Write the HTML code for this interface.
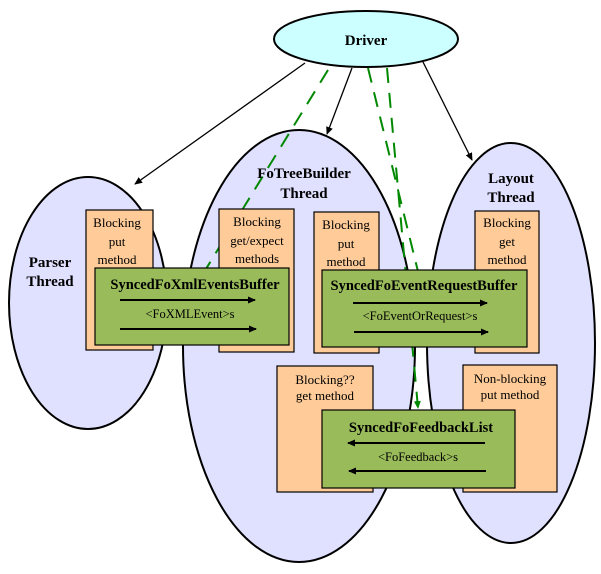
<!DOCTYPE html>
<html><head><meta charset="utf-8"><style>body{margin:0;background:#fff}svg{display:block}</style></head><body>
<svg width="601" height="574" viewBox="0 0 601 574" xmlns="http://www.w3.org/2000/svg" font-family="Liberation Serif, serif">
<defs>
<marker id="a" markerWidth="8" markerHeight="8" refX="7" refY="4" orient="auto" markerUnits="userSpaceOnUse"><path d="M0,0.5 L8,4 L0,7.5z" fill="#000"/></marker>
<marker id="g" markerWidth="8" markerHeight="8" refX="7" refY="4" orient="auto" markerUnits="userSpaceOnUse"><path d="M0,0.5 L8,4 L0,7.5z" fill="#080"/></marker>
</defs>
<g stroke="#000" stroke-width="2" fill="#e0e0ff">
<ellipse cx="88" cy="303" rx="79" ry="126"/>
<ellipse cx="299" cy="346" rx="116" ry="216"/>
<ellipse cx="511" cy="343" rx="84" ry="200"/>
</g>
<ellipse cx="366" cy="39" rx="92" ry="28" fill="#ccffff" stroke="#000" stroke-width="2"/>
<text x="366" y="45" font-size="15" font-weight="bold" text-anchor="middle">Driver</text>
<g stroke="#000" stroke-width="1.3" fill="none">
<line x1="305" y1="63" x2="135" y2="184" marker-end="url(#a)"/>
<line x1="352" y1="68" x2="327" y2="134" marker-end="url(#a)"/>
<line x1="423" y1="62" x2="472" y2="160" marker-end="url(#a)"/>
</g>
<g stroke="#080" stroke-width="2" stroke-dasharray="15,10" fill="none">
<line x1="328" y1="70" x2="190" y2="295" marker-end="url(#g)"/>
<line x1="368" y1="68" x2="425" y2="300" marker-end="url(#g)"/>
<line x1="387" y1="68" x2="418" y2="408" marker-end="url(#g)"/>
</g>
<g font-size="15" font-weight="bold" text-anchor="middle">
<text x="50" y="267">Parser</text><text x="50" y="286">Thread</text>
<text x="304" y="178">FoTreeBuilder</text><text x="304" y="198">Thread</text>
<text x="511" y="183">Layout</text><text x="511" y="202">Thread</text>
</g>
<g fill="#ffcc99" stroke="#000" stroke-width="1.2">
<rect x="86" y="210" width="67" height="140"/>
<rect x="219" y="209" width="75" height="143"/>
<rect x="314" y="212" width="65" height="141"/>
<rect x="475" y="211" width="64" height="142"/>
<rect x="277" y="366" width="96" height="126"/>
<rect x="463" y="365" width="94" height="127"/>
</g>
<g font-size="13" text-anchor="middle">
<text x="117" y="227">Blocking</text><text x="117" y="246">put</text><text x="117" y="264">method</text>
<text x="257" y="226">Blocking</text><text x="257" y="245">get/expect</text><text x="257" y="263">methods</text>
<text x="346" y="229">Blocking</text><text x="346" y="248">put</text><text x="346" y="266">method</text>
<text x="507" y="227">Blocking</text><text x="507" y="246">get</text><text x="507" y="264">method</text>
<text x="325" y="384">Blocking??</text><text x="325" y="400">get method</text>
<text x="510" y="383">Non-blocking</text><text x="510" y="399">put method</text>
</g>
<g fill="#99bb5a" stroke="#000" stroke-width="1.2">
<rect x="95" y="268" width="194" height="77"/>
<rect x="322" y="270" width="205" height="77"/>
<rect x="322" y="410" width="193" height="78"/>
</g>
<g font-size="14.5" font-weight="bold" text-anchor="middle">
<text x="195" y="289">SyncedFoXmlEventsBuffer</text>
<text x="424" y="290">SyncedFoEventRequestBuffer</text>
<text x="421" y="432">SyncedFoFeedbackList</text>
</g>
<g font-size="12.5" text-anchor="middle">
<text x="190" y="318">&lt;FoXMLEvent&gt;s</text>
<text x="420" y="320">&lt;FoEventOrRequest&gt;s</text>
<text x="418" y="461">&lt;FoFeedback&gt;s</text>
</g>
<g stroke="#000" stroke-width="2">
<line x1="120" y1="300" x2="255" y2="300" marker-end="url(#a)"/>
<line x1="120" y1="329" x2="256" y2="329" marker-end="url(#a)"/>
<line x1="353" y1="303" x2="487" y2="303" marker-end="url(#a)"/>
<line x1="354" y1="332" x2="488" y2="332" marker-end="url(#a)"/>
<line x1="485" y1="443" x2="348" y2="443" marker-end="url(#a)"/>
<line x1="486" y1="471" x2="349" y2="471" marker-end="url(#a)"/>
</g>
</svg>
</body></html>
